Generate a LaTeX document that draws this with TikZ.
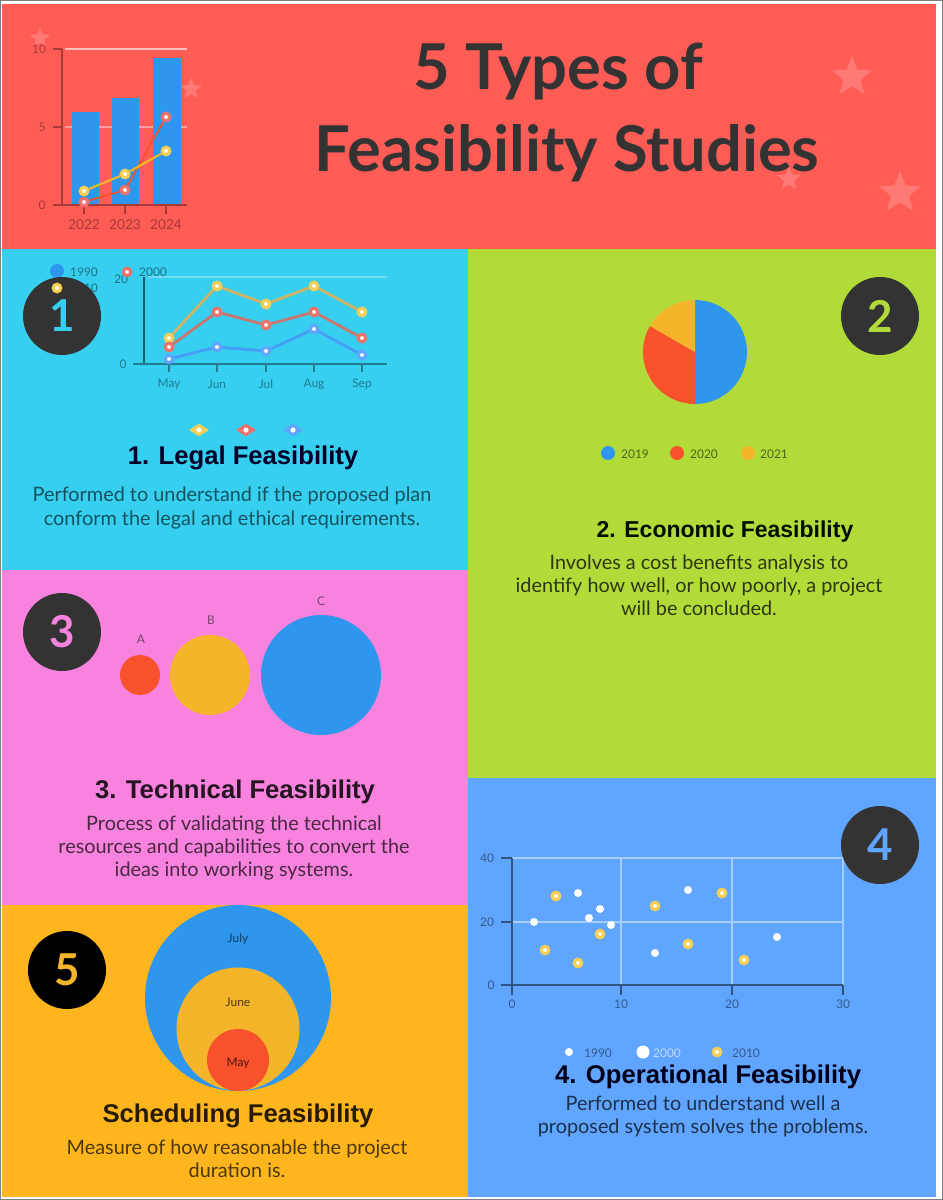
\documentclass[tikz,border=0pt]{standalone}
\usepackage{fontspec}
\setmainfont{Lato}
\newfontfamily\headfont{Liberation Sans}
\usetikzlibrary{positioning,shapes.geometric}
\definecolor{barblue}{HTML}{2F96EE}
\definecolor{pieblue}{HTML}{2F96EE}
\definecolor{piered}{HTML}{F8522C}
\definecolor{pieyellow}{HTML}{F5B52A}
\definecolor{ringyellow}{HTML}{F8CF55}
\definecolor{ringred}{HTML}{F0706A}
\definecolor{headred}{HTML}{FF5C55}
\definecolor{legalcyan}{HTML}{36CFF0}
\definecolor{econgreen}{HTML}{B2DB3A}
\definecolor{techpink}{HTML}{F783DE}
\definecolor{schedorange}{HTML}{FFB61E}
\definecolor{operblue}{HTML}{60A5FF}
\definecolor{badgedark}{HTML}{333333}
\definecolor{stareach}{HTML}{FF7A75}
\definecolor{axisred}{HTML}{A63A38}
\begin{document}
\begin{tikzpicture}[x=0.02cm, y=-0.02cm,
  badge/.style={circle, fill=badgedark, minimum size=1.56cm, inner sep=0pt, font=\fontsize{25}{25}\selectfont\bfseries},
  bgstar/.style={star, star points=5, star point ratio=2.3, fill=stareach, inner sep=0pt},
  titleline/.style={font=\fontsize{36}{46}\selectfont\bfseries, text=badgedark},
  heading/.style={font=\headfont\fontsize{14.6}{16}\selectfont\bfseries},
  bodytext/.style={align=center, font=\fontsize{11.3}{13.1}\selectfont},
  tiny/.style={font=\fontsize{6.8}{8}\selectfont, inner sep=0pt},
  ringdot/.style={circle, fill=white, inner sep=0pt, minimum size=0.15cm, line width=1.8pt},
  whitedot/.style={circle, fill=white, minimum size=.16cm, inner sep=0pt},
  keydiamond/.style={diamond, aspect=1.5, minimum width=.4cm, minimum height=.26cm, inner sep=0pt},
  dot/.style={circle, inner sep=0pt, minimum size=0.28cm}]
  \useasboundingbox (0,0) rectangle (943,1200);
  \fill [white] (0,0) rectangle (943,1200);
  \draw [gray, line width=1.5pt] (0,0) rectangle (943,1200);
  \fill [headred] (2,4) rectangle (936,249);
  \fill [legalcyan] (2,249) rectangle (468,570);
  \fill [econgreen] (468,249) rectangle (936,778);
  \fill [techpink] (2,570) rectangle (468,905);
  \fill [schedorange] (2,905) rectangle (468,1197);
  \fill [operblue] (468,778) rectangle (936,1197);

  \node [bgstar, minimum size=0.42cm] (s1) at (40,38) {};
  \node [bgstar, minimum size=0.46cm] (s2) at (191,89) {};
  \node [bgstar, minimum size=0.84cm] (s3) at (852,77) {};
  \node [bgstar, minimum size=0.5cm] (s4) at (789,179) {};
  \node [bgstar, minimum size=0.88cm] (s5) at (900,193) {};
  \node [titleline] (title1) at (558,72) {5 Types of};
  \node [titleline] (title2) at (567,153) {Feasibility Studies};

  % bars
  \draw [white, opacity=.6, line width=1pt] (65,49) -- (187,49);
  \draw [white, opacity=.4, line width=1pt] (65,127) -- (187,127);
  \fill [barblue] (72,112) rectangle (99,205);
  \fill [barblue] (112,98) rectangle (139,205);
  \fill [barblue] (153,58) rectangle (181,205);
  \draw [axisred, line width=1.4pt] (62,49) -- (62,205);
  \draw [axisred, line width=.8pt] (53,205) -- (187,205);
  \draw [axisred, line width=.8pt] (53,49) -- (62,49) (53,127) -- (62,127);
  \draw [axisred, line width=.8pt] (84,205) -- (84,214) (125,205) -- (125,214) (166,205) -- (166,214);
  \node [tiny, text=axisred] (v10) at (39,49) {10};
  \node [tiny, text=axisred] (v5) at (42,127) {5};
  \node [tiny, text=axisred] (v0) at (42,205) {0};
  \node [tiny, text=axisred, font=\fontsize{7.8}{9}\selectfont] (y22) at (84,225) {2022};
  \node [tiny, text=axisred, font=\fontsize{7.8}{9}\selectfont] (y23) at (125,225) {2023};
  \node [tiny, text=axisred, font=\fontsize{7.8}{9}\selectfont] (y24) at (166,225) {2024};
  \node [ringdot, draw=ringred] (r22) at (84,202) {};
  \node [ringdot, draw=ringred] (r23) at (125,190) {};
  \node [ringdot, draw=ringred] (r24) at (166,117) {};
  \node [ringdot, draw=ringyellow] (o22) at (84,191) {};
  \node [ringdot, draw=ringyellow] (o23) at (125,174) {};
  \node [ringdot, draw=ringyellow] (o24) at (166,151) {};
  \draw [piered, line width=1pt] (r22) -- (r23) -- (r24);
  \draw [pieyellow, line width=1.2pt] (o22) -- (o23) -- (o24);

  % line chart
  \node [dot, fill=barblue] (leg1) at (57,271) {};
  \node [tiny, text=black!45!legalcyan] (leg1t) at (84,272) {1990};
  \node [tiny, text=black!45!legalcyan] (leg3t) at (84,288) {2010};
  \node [badge, text=legalcyan] (one) at (62,316) {1};
  \node [ringdot, draw=ringyellow] (leg3) at (57,288) {};
  \node [tiny, text=black!45!legalcyan] (t20) at (121,279) {20};
  \node [ringdot, draw=ringred] (leg2) at (127,272) {};
  \node [tiny, text=black!45!legalcyan] (leg2t) at (153,272) {2000};
  \draw [white, opacity=.3, line width=1pt] (148,277) -- (387,277);
  \draw [black!55!legalcyan, line width=1pt] (144,277) -- (144,364);
  \draw [black!40!legalcyan, line width=1.2pt] (133,364) -- (387,364);
  \draw [black!40!legalcyan, line width=.8pt] (169,364) -- (169,372) (217,364) -- (217,372) (266,364) -- (266,372) (314,364) -- (314,372) (362,364) -- (362,372);
  \node [tiny, text=black!40!legalcyan] (t0) at (123,364) {0};
  \node [tiny, text=black!40!legalcyan] (may) at (169,384) {May};
  \node [tiny, text=black!40!legalcyan] (jun) at (217,384) {Jun};
  \node [tiny, text=black!40!legalcyan] (jul) at (266,384) {Jul};
  \node [tiny, text=black!40!legalcyan] (aug) at (314,384) {Aug};
  \node [tiny, text=black!40!legalcyan] (sep) at (362,384) {Sep};
  \node [ringdot, draw=ringyellow] (y1) at (169,338) {};
  \node [ringdot, draw=ringyellow] (y2) at (217,286) {};
  \node [ringdot, draw=ringyellow] (y3) at (266,304) {};
  \node [ringdot, draw=ringyellow] (y4) at (314,286) {};
  \node [ringdot, draw=ringyellow] (y5) at (362,312) {};
  \node [ringdot, draw=ringred] (r1) at (169,347) {};
  \node [ringdot, draw=ringred] (r2) at (217,312) {};
  \node [ringdot, draw=ringred] (r3) at (266,325) {};
  \node [ringdot, draw=ringred] (r4) at (314,312) {};
  \node [ringdot, draw=ringred] (r5) at (362,338) {};
  \node [ringdot, draw=operblue] (b1) at (169,359) {};
  \node [ringdot, draw=operblue] (b2) at (217,347) {};
  \node [ringdot, draw=operblue] (b3) at (266,351) {};
  \node [ringdot, draw=operblue] (b4) at (314,329) {};
  \node [ringdot, draw=operblue] (b5) at (362,355) {};
  \draw [ringyellow!65!gray, line width=1.6pt] (y1) -- (y2) -- (y3) -- (y4) -- (y5);
  \draw [ringred!65!gray, line width=1.6pt] (r1) -- (r2) -- (r3) -- (r4) -- (r5);
  \draw [barblue!50!operblue, line width=1.6pt] (b1) -- (b2) -- (b3) -- (b4) -- (b5);
  \node [keydiamond, fill=ringyellow] (ld1) at (199,430) {};
  \node [keydiamond, fill=ringred] (ld2) at (246,430) {};
  \node [keydiamond, fill=operblue] (ld3) at (293,430) {};
  \fill [white] (ld1) circle [radius=2.6] (ld2) circle [radius=2.6] (ld3) circle [radius=2.6];
  \node [heading, text=black!85!blue] (legal) at (243,458) {1. Legal Feasibility};
  \node [bodytext, text=black!60!legalcyan] (legaltxt) at (232,508) {Performed to understand if the proposed plan\\conform the legal and ethical requirements.};

  % pie
  \coordinate (pie) at (695,352);
  \fill [pieblue] (pie) -- (695,300) arc [start angle=-90, end angle=90, radius=52] -- cycle;
  \fill [piered] (pie) -- (695,404) arc [start angle=90, end angle=210, radius=52] -- cycle;
  \fill [pieyellow] (pie) -- (650,326) arc [start angle=210, end angle=270, radius=52] -- cycle;
  \node [dot, fill=pieblue] (p1) at (608,453) {};
  \node [dot, fill=piered] (p2) at (677,453) {};
  \node [dot, fill=pieyellow] (p3) at (748,453) {};
  \node [tiny, text=black!55!econgreen] (p1t) at (635,454) {2019};
  \node [tiny, text=black!55!econgreen] (p2t) at (704,454) {2020};
  \node [tiny, text=black!55!econgreen] (p3t) at (774,454) {2021};
  \node [badge, text=econgreen] (two) at (880,316) {2};
  \node [heading, text=black!95!green, font=\headfont\fontsize{13.1}{15}\selectfont\bfseries] (econ) at (725,532) {2. Economic Feasibility};
  \node [bodytext, text=black!75!econgreen] (econtxt) at (699,585) {Involves a cost benefits analysis to\\identify how well, or how poorly, a project\\will be concluded.};

  % bubbles
  \node [badge, text=techpink] (three) at (62,632) {3};
  \node [circle, fill=piered, minimum size=.8cm, inner sep=0pt] (bubA) at (140,675) {};
  \node [circle, fill=pieyellow, minimum size=1.6cm, inner sep=0pt] (bubB) at (210,675) {};
  \node [circle, fill=pieblue, minimum size=2.4cm, inner sep=0pt] (bubC) at (321,675) {};
  \node [tiny, text=black!50!techpink] (labA) at (141,639) {A};
  \node [tiny, text=black!50!techpink] (labB) at (211,620) {B};
  \node [tiny, text=black!50!techpink] (labC) at (321,601) {C};
  \node [heading, text=black!85!techpink] (tech) at (235,792) {3. Technical Feasibility};
  \node [bodytext, text=black!70!techpink] (techtxt) at (234,848) {Process of validating the technical\\resources and capabilities to convert the\\ideas into working systems.};

  % nested circles
  \node [badge, fill=black, text=pieyellow] (five) at (67,970) {5};
  \node [circle, fill=pieblue, minimum size=3.72cm, inner sep=0pt] (july) at (238,998) {};
  \node [circle, fill=pieyellow, minimum size=2.46cm, inner sep=0pt] (june) at (238,1029) {};
  \node [circle, fill=piered, minimum size=1.24cm, inner sep=0pt] (mayc) at (238,1060) {};
  \node [tiny, text=black!60!pieblue] (julyt) at (238,939) {July};
  \node [tiny, text=black!70!pieyellow] (junet) at (238,1002) {June};
  \node [tiny, text=black!70!piered] (mayt) at (238,1063) {May};
  \node [heading, text=black!85!schedorange] (sched) at (238,1116) {Scheduling Feasibility};
  \node [bodytext, text=black!70!schedorange] (schedtxt) at (237,1159) {Measure of how reasonable the project\\duration is.};

  % scatter
  \draw [white, opacity=.45, line width=1pt] (512,858) -- (843,858) (512,922) -- (843,922) (621,858) -- (621,985) (732,858) -- (732,985) (843,858) -- (843,985);
  \draw [black!50!operblue, line width=1.2pt] (512,858) -- (512,985);
  \draw [black!50!operblue, line width=1.2pt] (501,985) -- (843,985);
  \draw [black!50!operblue, line width=.8pt] (501,858) -- (512,858) (501,922) -- (512,922) (512,985) -- (512,995) (621,985) -- (621,995) (732,985) -- (732,995) (843,985) -- (843,995);
  \node [tiny, text=black!45!operblue] (s40) at (487,858) {40};
  \node [tiny, text=black!45!operblue] (s20) at (487,922) {20};
  \node [tiny, text=black!45!operblue] (s0) at (491,985) {0};
  \node [tiny, text=black!45!operblue] (x0) at (512,1004) {0};
  \node [tiny, text=black!45!operblue] (x10) at (621,1004) {10};
  \node [tiny, text=black!45!operblue] (x20) at (732,1004) {20};
  \node [tiny, text=black!45!operblue] (x30) at (843,1004) {30};
  \node [whitedot] (w1) at (534,922) {};
  \node [whitedot] (w2) at (578,893) {};
  \node [whitedot] (w3) at (589,918) {};
  \node [whitedot] (w4) at (600,909) {};
  \node [whitedot] (w5) at (611,925) {};
  \node [whitedot] (w6) at (655,953) {};
  \node [whitedot] (w7) at (688,890) {};
  \node [whitedot] (w8) at (777,937) {};
  \node [ringdot, draw=ringyellow] (c1) at (545,950) {};
  \node [ringdot, draw=ringyellow] (c2) at (556,896) {};
  \node [ringdot, draw=ringyellow] (c3) at (578,963) {};
  \node [ringdot, draw=ringyellow] (c4) at (600,934) {};
  \node [ringdot, draw=ringyellow] (c5) at (655,906) {};
  \node [ringdot, draw=ringyellow] (c6) at (688,944) {};
  \node [ringdot, draw=ringyellow] (c7) at (722,893) {};
  \node [ringdot, draw=ringyellow] (c8) at (744,960) {};
  \node [whitedot] (l1) at (569,1052) {};
  \node [whitedot, minimum size=.26cm] (l2) at (643,1052) {};
  \node [ringdot, draw=ringyellow] (l3) at (717,1052) {};
  \node [tiny, text=black!45!operblue] (l1t) at (598,1053) {1990};
  \node [tiny, text=white!60!operblue] (l2t) at (667,1053) {2000};
  \node [tiny, text=black!45!operblue] (l3t) at (746,1053) {2010};
  \node [badge, text=operblue] (four) at (880,845) {4};
  \node [heading, text=black!90!blue] (oper) at (708,1077) {4. Operational Feasibility};
  \node [bodytext, text=black!70!operblue] (opertxt) at (703,1116) {Performed to understand well a\\proposed system solves the problems.};
\end{tikzpicture}
\end{document}
